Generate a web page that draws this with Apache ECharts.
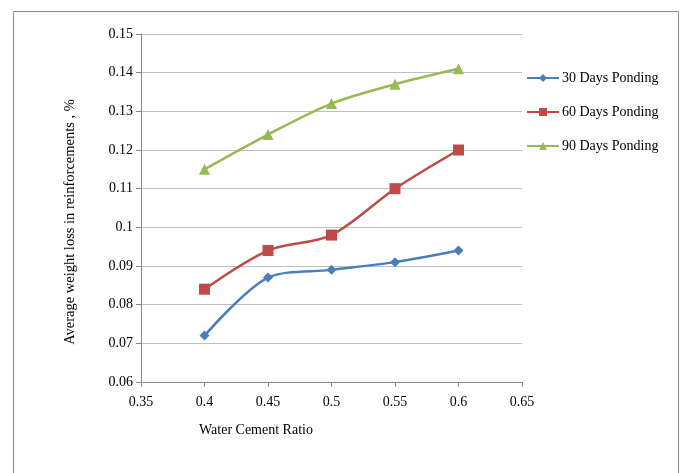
<!DOCTYPE html>
<html><head><meta charset="utf-8">
<script src="https://cdn.jsdelivr.net/npm/echarts@6/dist/echarts.min.js"></script>
<style>html,body{margin:0;padding:0;background:#fff}#c{width:681px;height:473px}</style>
</head><body><div id="c"></div>
<script>
const wcRatio = [0.4, 0.45, 0.5, 0.55, 0.6];
const days30 = [0.072, 0.087, 0.089, 0.091, 0.094];
const days60 = [0.084, 0.094, 0.098, 0.110, 0.120];
const days90 = [0.115, 0.124, 0.132, 0.137, 0.141];
const seriesNames = ['30 Days Ponding', '60 Days Ponding', '90 Days Ponding'];
const xTitle = 'Water Cement Ratio';
const yTitle = 'Average weight loss in reinforcements , %';

const font = 'Liberation Serif, Times New Roman, serif';
const pair = arr => wcRatio.map((x, i) => [x, arr[i]]);
const chart = echarts.init(document.getElementById('c'));
const mk = (name, data, color, symbol, size) => ({
  name, type: 'line', data: pair(data), smooth: 0.3,
  symbol, symbolSize: size,
  lineStyle: { color, width: 2.5 },
  itemStyle: { color },
  emphasis: { disabled: true }
});
chart.setOption({
  animation: false,
  grid: { left: 141, right: 159, top: 34, bottom: 91 },
  xAxis: {
    type: 'value', min: 0.35, max: 0.65, interval: 0.05,
    axisLine: { lineStyle: { color: '#868686' } },
    axisTick: { show: true, length: 5, lineStyle: { color: '#868686' } },
    axisLabel: { color: '#000', fontFamily: font, fontSize: 14, margin: 13 },
    splitLine: { show: false }
  },
  yAxis: {
    type: 'value', min: 0.06, max: 0.15, interval: 0.01,
    axisLine: { show: true, lineStyle: { color: '#868686' } },
    axisTick: { show: true, length: 5, lineStyle: { color: '#868686' } },
    axisLabel: { color: '#000', fontFamily: font, fontSize: 14, margin: 8 },
    splitLine: { lineStyle: { color: '#bfbfbf' } }
  },
  legend: {
    orient: 'vertical', left: 521, top: 66, itemGap: 20,
    itemWidth: 32, itemHeight: 10,
    textStyle: { color: '#000', fontFamily: font, fontSize: 14, padding: [0,0,0,-2] },
    data: seriesNames
  },
  graphic: [
    { type: 'rect', shape: { x: 13.5, y: 11.5, width: 665, height: 480 },
      style: { fill: 'none', stroke: '#8c8c8c', lineWidth: 1 }, silent: true },
    { type: 'text', left: 199, top: 423,
      style: { text: xTitle, fontFamily: font, fontSize: 14, fill: '#000' } },
    { type: 'text', x: 70, y: 222, rotation: Math.PI / 2,
      style: { text: yTitle, fontFamily: font, fontSize: 14.5, fill: '#000', align: 'center', verticalAlign: 'middle' } }
  ],
  series: [
    mk(seriesNames[0], days30, '#4a7ebb', 'diamond', 10),
    mk(seriesNames[1], days60, '#be4b48', 'rect', 11),
    mk(seriesNames[2], days90, '#98b954', 'triangle', 11)
  ]
});
</script></body></html>
